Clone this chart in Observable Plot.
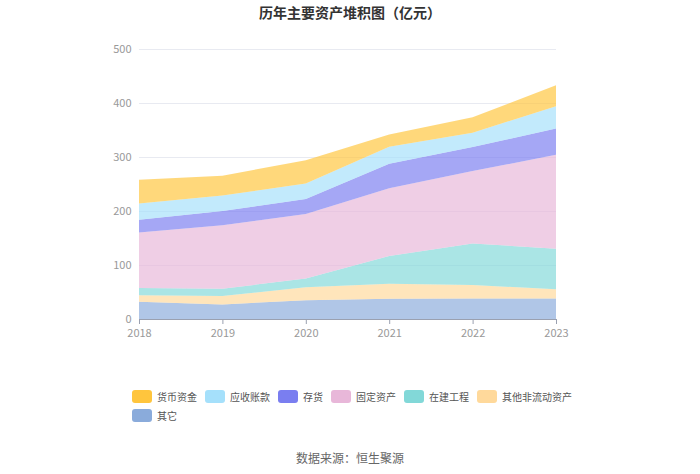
<!DOCTYPE html>
<html><head><meta charset="utf-8">
<script src="https://cdn.jsdelivr.net/npm/d3@7"></script>
<script src="https://cdn.jsdelivr.net/npm/@observablehq/plot@0.6"></script>
<style>
body{margin:0;background:#fff;font-family:"Noto Sans CJK SC","Noto Sans",sans-serif;}
#wrap{width:700px;height:474px;position:relative;overflow:hidden;}
#title{height:26px;line-height:24px;text-align:center;font-size:14px;font-weight:bold;color:#333;}
#legend{position:absolute;left:132px;top:390px;width:450px;display:flex;flex-wrap:wrap;row-gap:6px;font-size:10px;color:#555;}
.item{display:flex;align-items:center;margin-right:8px;height:13px;}
.sw{width:20px;height:13px;border-radius:3px;margin-right:5px;}
#source{position:absolute;left:0;width:700px;top:449px;text-align:center;font-size:12px;color:#666;}
</style></head>
<body><div id="wrap"><div id="title">历年主要资产堆积图（亿元）</div><div id="chart"></div><div id="legend"></div><div id="source">数据来源：恒生聚源</div></div>
<script>
const years = [2018, 2019, 2020, 2021, 2022, 2023];
const seriesNames = ["货币资金", "应收账款", "存货", "固定资产", "在建工程", "其他非流动资产", "其它"];
const seriesColors = ["#ffc53d", "#a5e0fb", "#7a7ef0", "#e8b7d9", "#82d8d8", "#ffd99b", "#8aabdb"];
const 货币资金 = [44, 37, 43.3, 22.5, 28.5, 39];
const 应收账款 = [30, 28.5, 28.7, 31.3, 26.5, 41.4];
const 存货 = [24, 26.5, 27.5, 45.7, 44.5, 48.6];
const 固定资产 = [102.5, 117.5, 119.5, 125.3, 134, 174];
const 在建工程 = [13.5, 13.4, 16, 51.2, 77, 75];
const 其他非流动资产 = [12, 15.6, 24.4, 27.8, 25, 17];
const 其它 = [32, 27, 34.6, 37.7, 38, 38];
const yTicks = [0, 100, 200, 300, 400, 500];

const valuesBySeries = {货币资金, 应收账款, 存货, 固定资产, 在建工程, 其他非流动资产, 其它};
// stack bottom to top: reverse of legend order
const stackOrder = seriesNames.slice().reverse();
const data = [];
for (const s of stackOrder) years.forEach((y, i) => data.push({year: y, series: s, value: valuesBySeries[s][i]}));

const chart = Plot.plot({
  width: 700, height: 330,
  marginLeft: 139, marginRight: 144, marginTop: 23, marginBottom: 37,
  style: {fontFamily: '"Noto Sans CJK SC","Noto Sans",sans-serif', fontSize: "11px", background: "#fff"},
  x: {domain: [2018, 2023]},
  y: {domain: [0, 500]},
  color: {domain: seriesNames, range: seriesColors},
  marks: [
    Plot.ruleY(yTicks, {stroke: "#e8eaf1", strokeWidth: 1}),
    Plot.areaY(data, {x: "year", y: "value", fill: "series", fillOpacity: 0.68}),
    Plot.ruleY([0], {stroke: "#9aa0b0"}),
    Plot.axisY({ticks: yTicks, tickSize: 0, tickPadding: 8, color: "#999", label: null}),
    Plot.axisX({ticks: years, tickFormat: d => String(d), tickSize: 5, tickPadding: 5, stroke: "#9aa0b0", color: "#999", label: null})
  ]
});
document.getElementById("chart").appendChild(chart);

const lg = document.getElementById("legend");
seriesNames.forEach((s, i) => {
  const it = document.createElement("div"); it.className = "item";
  it.innerHTML = `<span class="sw" style="background:${seriesColors[i]}"></span><span>${s}</span>`;
  lg.appendChild(it);
});
</script></body></html>
